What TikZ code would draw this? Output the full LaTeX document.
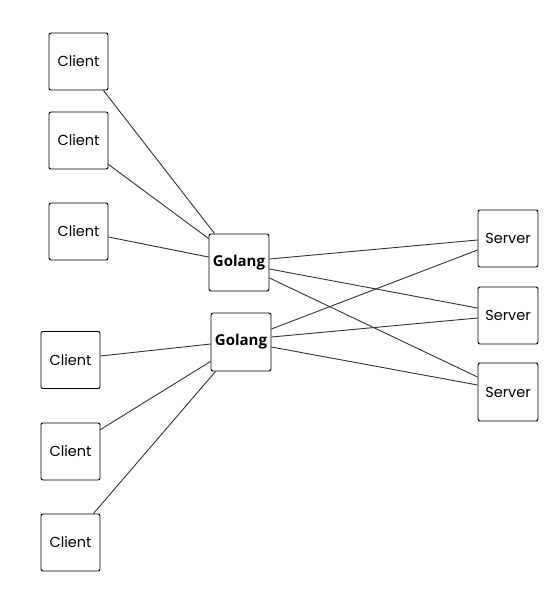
\documentclass[tikz,border=0pt]{standalone}
\usepackage{fontspec}
\setmainfont{Poppins}
\newfontfamily\boldlabel{Open Sans}
\usetikzlibrary{calc}
\begin{document}
\begin{tikzpicture}[x=1pt,y=-1pt,
  box/.style={draw=black,line width=0.9pt,rounded corners=2pt,fill=white,
    inner sep=0pt,minimum width=59pt,minimum height=57pt,font=\fontsize{14.5}{16}\selectfont},
  gobox/.style={box,minimum width=60pt,font=\boldlabel\bfseries\fontsize{15}{17}\selectfont},
  link/.style={draw=black!80,line width=0.9pt}]
\useasboundingbox (0,0) rectangle (557,600);

% clients
\node[box] (c1) at (78.5,61.5) {Client};
\node[box] (c2) at (78.5,140.5) {Client};
\node[box] (c3) at (78.5,231.5) {Client};
\node[box] (c4) at (70.5,360) {Client};
\node[box] (c5) at (70.5,451.5) {Client};
\node[box] (c6) at (70.5,542.5) {Client};

% proxies
\node[gobox] (g1) at (239,262.5) {Golang};
\node[gobox,minimum height=58pt] (g2) at (241,342) {\raisebox{2pt}{Golang}};

% servers
\node[box,minimum width=60pt] (s1) at (508,238.5) {Server};
\node[box,minimum width=60pt] (s2) at (508,315.5) {Server};
\node[box,minimum width=60pt,minimum height=58pt] (s3) at (508,392) {Server};

% clients to proxies
\draw[link] ($(c1.south east)+(-5,0)$) -- ($(g1.north west)+(6,0)$);
\draw[link] ($(c2.south east)+(0,-5)$) -- ($(g1.north west)+(0,5)$);
\draw[link] ($(c3.east)+(0,5.5)$) -- ($(g1.west)+(0,-5.5)$);
\draw[link] ($(c4.east)+(0,-4)$) -- ($(g2.west)+(0,2)$);
\draw[link] ($(c5.north east)+(0,7)$) -- ($(g2.south west)+(0,-10)$);
\draw[link] ($(c6.north east)+(-7,0)$) -- ($(g2.south west)+(5,0)$);

% proxies to servers
\draw[link] ($(g1.east)+(0,-3.5)$) -- ($(s1.west)+(0,1.5)$);
\draw[link] ($(g1.east)+(0,6.5)$) -- ($(s2.west)+(0,-7.5)$);
\draw[link] ($(g1.east)+(0,15.5)$) -- ($(s3.west)+(0,-15)$);
\draw[link] ($(g2.east)+(0,-13)$) -- ($(s1.west)+(0,11.5)$);
\draw[link] ($(g2.east)+(0,-5)$) -- ($(s2.west)+(0,2.5)$);
\draw[link] ($(g2.east)+(0,5)$) -- ($(s3.west)+(0,-7)$);
\end{tikzpicture}
\end{document}
